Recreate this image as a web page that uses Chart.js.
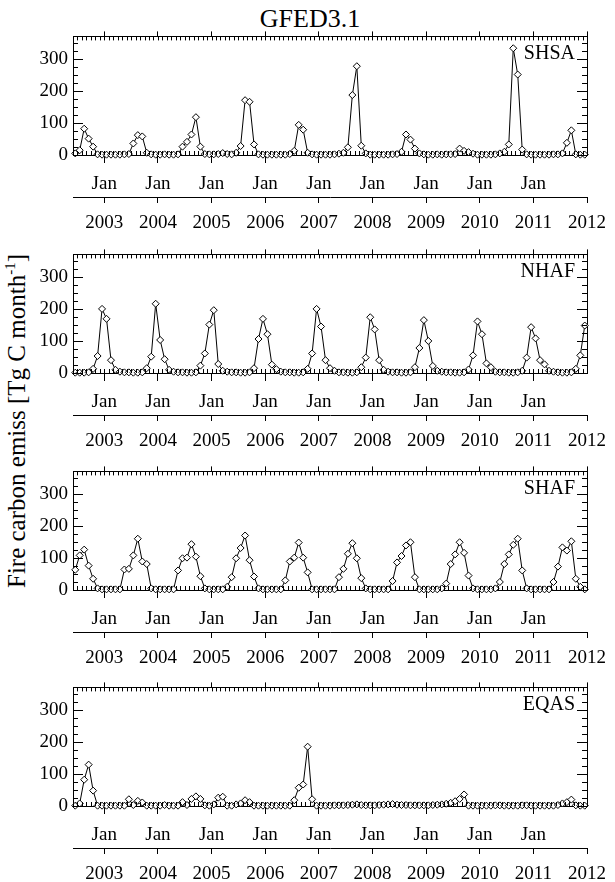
<!DOCTYPE html>
<html>
<head>
<meta charset="utf-8">
<script src="https://cdn.jsdelivr.net/npm/chart.js@4.4.1/dist/chart.umd.min.js"></script>
<style>
  html, body { margin: 0; padding: 0; background: #fff; overflow: hidden; }
  body { width: 615px; height: 882px; position: relative; font-family: 'Liberation Serif', 'DejaVu Serif', serif; }
  canvas { position: absolute; left: 0; }
  #title { position: absolute; left: 310px; top: 4px; transform: translateX(-50%); font-size: 26px; white-space: nowrap; }
  #ytitle { position: absolute; left: 17px; top: 421px; transform: translate(-50%, -50%) rotate(-90deg); font-size: 25px; white-space: nowrap; }
  #ytitle sup { font-size: 15px; vertical-align: 10px; line-height: 0; }
</style>
</head>
<body>
<div id="title">GFED3.1</div>
<div id="ytitle">Fire carbon emiss [Tg C month<sup>-1</sup>]</div>
<canvas id="c1" width="615" height="217" style="top:20px"></canvas>
<canvas id="c2" width="615" height="217" style="top:238px"></canvas>
<canvas id="c3" width="615" height="217" style="top:455px"></canvas>
<canvas id="c4" width="615" height="217" style="top:671px"></canvas>
<script>
// monthly values, Jun 2002 .. Dec 2011 (Tg C / month)
const shsa = [5, 15, 82, 51, 26, 2, 1, 1, 1, 1, 1, 2,
  3, 36, 62, 58, 7, 2, 1, 1, 2, 1, 1, 2,
  26, 41, 64, 118, 26, 3, 2, 2, 3, 6, 3, 2,
  7, 28, 171, 166, 33, 2, 1, 1, 1, 1, 1, 1,
  3, 13, 94, 79, 7, 2, 1, 1, 1, 1, 2, 4,
  7, 24, 187, 277, 29, 5, 1, 1, 1, 1, 1, 2,
  3, 10, 64, 48, 20, 5, 2, 1, 1, 2, 1, 2,
  2, 3, 20, 13, 9, 4, 1, 1, 1, 1, 2, 5,
  10, 33, 333, 251, 17, 2, 1, 1, 1, 1, 1, 2,
  2, 5, 38, 77, 2, 1, 1];
const nhaf = [1, 1, 1, 2, 13, 53, 200, 169, 40, 10, 4, 2,
  2, 1, 1, 2, 15, 51, 216, 103, 43, 10, 4, 2,
  2, 1, 1, 2, 23, 61, 151, 196, 28, 7, 4, 2,
  2, 1, 1, 2, 15, 106, 169, 121, 26, 12, 4, 2,
  2, 1, 1, 2, 13, 61, 200, 145, 40, 15, 7, 2,
  2, 1, 1, 2, 18, 48, 174, 136, 40, 10, 4, 2,
  2, 1, 1, 2, 18, 78, 165, 100, 22, 7, 4, 2,
  2, 1, 1, 2, 11, 55, 161, 121, 30, 18, 4, 2,
  2, 1, 1, 2, 7, 48, 143, 108, 40, 27, 7, 4,
  2, 1, 1, 2, 13, 55, 148];
const shaf = [63, 108, 126, 76, 35, 5, 2, 2, 2, 2, 2, 64,
  66, 108, 160, 89, 81, 5, 2, 2, 2, 2, 2, 61,
  99, 101, 143, 104, 43, 5, 2, 2, 2, 2, 10, 40,
  99, 131, 170, 93, 42, 5, 2, 2, 2, 2, 2, 30,
  89, 101, 148, 101, 55, 2, 2, 2, 2, 2, 2, 40,
  66, 113, 146, 99, 37, 5, 2, 2, 2, 2, 2, 28,
  86, 106, 139, 149, 40, 2, 2, 2, 2, 2, 5, 20,
  81, 111, 149, 116, 45, 5, 2, 2, 2, 2, 5, 25,
  81, 111, 141, 160, 61, 5, 2, 2, 2, 2, 2, 25,
  73, 133, 123, 152, 35, 10, 2];
const eqas = [1, 8, 82, 129, 48, 1, 1, 1, 1, 1, 1, 1,
  21, 3, 16, 11, 1, 1, 1, 1, 3, 1, 1, 1,
  12, 3, 22, 30, 22, 2, 1, 5, 26, 29, 1, 1,
  5, 8, 18, 12, 1, 1, 1, 1, 1, 1, 1, 1,
  1, 18, 57, 67, 185, 21, 1, 1, 1, 1, 2, 2,
  2, 3, 4, 5, 3, 2, 2, 2, 3, 4, 5, 6,
  4, 3, 3, 2, 2, 2, 2, 2, 3, 4, 5, 7,
  10, 15, 22, 36, 1, 1, 1, 1, 1, 1, 2, 2,
  1, 1, 1, 1, 2, 2, 1, 1, 1, 1, 1, 1,
  3, 8, 12, 20, 2, 1, 1];

const regions = ['SHSA', 'NHAF', 'SHAF', 'EQAS'];
// axis positions in months since Jun 2002
const janTicks = [7, 19, 31, 43, 55, 67, 79, 91, 103];
const yearTicks = [7, 19, 31, 43, 55, 67, 79, 91, 103, 115];
const yearLabels = ['2003', '2004', '2005', '2006', '2007', '2008', '2009', '2010', '2011', '2012'];
const yTicks = [0, 100, 200, 300];
const yMax = 370;
const monthCount = 115;

const tickFont = { family: "'Liberation Serif', serif", size: 19 };

// IDL style inward ticks on all four sides + region name
const boxTicks = {
    id: 'boxTicks',
    afterDraw(chart) {
        const { ctx, chartArea: a, scales } = chart;
        const x = scales.x, y = scales.y;
        ctx.save();
        ctx.strokeStyle = '#000';
        ctx.lineWidth = 1;
        ctx.beginPath();
        for (let v = 0; v <= yMax; v += 25) {
            const py = Math.round(y.getPixelForValue(v)) + 0.5;
            const len = v % 100 === 0 ? 10 : 5;
            ctx.moveTo(a.left, py); ctx.lineTo(a.left + len, py);
            ctx.moveTo(a.right, py); ctx.lineTo(a.right - len, py);
        }
        for (let m = 0; m <= monthCount; m++) {
            const px = Math.round(x.getPixelForValue(m)) + 0.5;
            ctx.moveTo(px, a.bottom); ctx.lineTo(px, a.bottom - 4);
            ctx.moveTo(px, a.top); ctx.lineTo(px, a.top + 4);
        }
        ctx.stroke();
        ctx.fillStyle = '#000';
        ctx.font = "20px 'Liberation Serif', serif";
        ctx.textAlign = 'right';
        ctx.textBaseline = 'alphabetic';
        ctx.fillText(chart.options.regionName, a.right - 12, y.getPixelForValue(300));
        ctx.restore();
    }
};

function setTicks(list) {
    return function(scale) {
        scale.ticks = list.map(v => ({ value: v }));
    };
}

function makePanel(id, values, name) {
    const points = values.map((v, i) => ({ x: i + 0.5, y: v }));
    new Chart(document.getElementById(id), {
        type: 'line',
        data: {
            datasets: [{
                data: points,
                borderColor: '#000',
                borderWidth: 1,
                pointStyle: 'rectRot',
                pointRadius: 3.5,
                pointBackgroundColor: '#fff',
                pointBorderColor: '#000',
                pointBorderWidth: 1,
                tension: 0,
                clip: false
            }]
        },
        options: {
            regionName: name,
            responsive: false,
            animation: false,
            layout: { padding: { left: 0, right: 22, top: 10, bottom: 0 } },
            plugins: { legend: { display: false }, tooltip: { enabled: false } },
            scales: {
                x: {
                    type: 'linear', position: 'bottom', min: 0, max: monthCount,
                    afterBuildTicks: setTicks(janTicks),
                    ticks: { callback: () => 'Jan', font: tickFont, color: '#000', padding: 10, autoSkip: false, maxRotation: 0, minRotation: 0 },
                    grid: { drawOnChartArea: false, tickLength: 8, tickColor: '#000' },
                    border: { color: '#000', width: 1 },
                    afterFit: s => { s.height = 42; }
                },
                x2: {
                    type: 'linear', position: 'bottom', min: 0, max: monthCount,
                    afterBuildTicks: setTicks(yearTicks),
                    ticks: { callback: (v, i) => yearLabels[i], font: tickFont, color: '#000', padding: 9, autoSkip: false, maxRotation: 0, minRotation: 0 },
                    grid: { drawOnChartArea: false, tickLength: 6, tickColor: '#000' },
                    border: { color: '#000', width: 1 },
                    afterFit: s => { s.height = 40; }
                },
                x3: {
                    type: 'linear', position: 'top', min: 0, max: monthCount,
                    afterBuildTicks: setTicks(yearTicks),
                    ticks: { display: false },
                    grid: { drawOnChartArea: false, tickLength: 5, tickColor: '#000' },
                    border: { color: '#000', width: 1 },
                    afterFit: s => { s.height = 5; }
                },
                y: {
                    position: 'left', min: 0, max: yMax,
                    afterBuildTicks: setTicks(yTicks),
                    ticks: { font: tickFont, color: '#000', padding: 5 },
                    grid: { drawOnChartArea: false, drawTicks: false },
                    border: { color: '#000', width: 1 },
                    afterFit: s => { s.width = 73; }
                },
                y2: {
                    position: 'right', min: 0, max: yMax,
                    ticks: { display: false },
                    grid: { display: false },
                    border: { color: '#000', width: 1 },
                    afterFit: s => { s.width = 0; }
                }
            }
        },
        plugins: [boxTicks]
    });
}

makePanel('c1', shsa, regions[0]);
makePanel('c2', nhaf, regions[1]);
makePanel('c3', shaf, regions[2]);
makePanel('c4', eqas, regions[3]);
</script>
</body>
</html>
